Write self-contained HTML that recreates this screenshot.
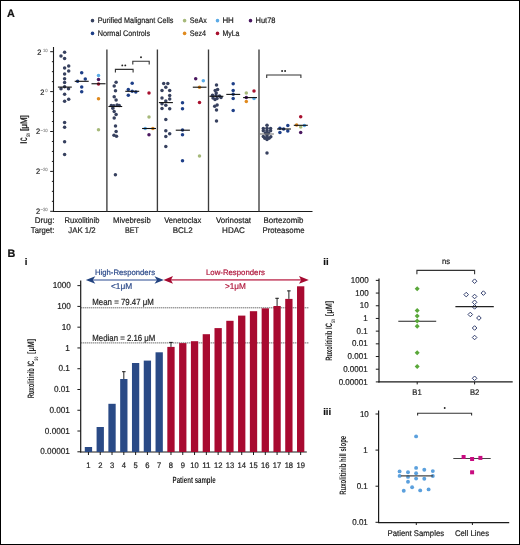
<!DOCTYPE html>
<html><head><meta charset="utf-8"><style>
html,body{margin:0;padding:0;background:#fff;}
body{width:520px;height:545px;overflow:hidden;}
svg{display:block;font-family:"Liberation Sans", sans-serif;filter:blur(0.5px);text-rendering:geometricPrecision;}
</style></head><body>
<svg width="520" height="545" viewBox="0 0 520 545">
<rect x="0" y="0" width="520" height="545" fill="#fff"/>
<rect x="0.5" y="0.5" width="519" height="544" fill="none" stroke="#000" stroke-width="1"/>
<text x="7.00" y="16.90" font-size="10.8" text-anchor="start" fill="#111" stroke="#111" stroke-width="0.2" font-weight="bold">A</text>
<text x="7.50" y="256.90" font-size="10.8" text-anchor="start" fill="#111" stroke="#111" stroke-width="0.2" font-weight="bold">B</text>
<text x="24.80" y="265.00" font-size="9.6" text-anchor="start" fill="#111" stroke="#111" stroke-width="0.2" font-weight="bold">i</text>
<text x="323.30" y="265.00" font-size="9.6" text-anchor="start" fill="#111" stroke="#111" stroke-width="0.2" font-weight="bold">ii</text>
<text x="323.20" y="414.60" font-size="9.6" text-anchor="start" fill="#111" stroke="#111" stroke-width="0.2" font-weight="bold">iii</text>
<circle cx="92.50" cy="20.65" r="1.8" fill="#37415f"/>
<text x="97.70" y="23.25" font-size="8.06" text-anchor="start" fill="#222" stroke="#222" stroke-width="0.2" textLength="75.70" lengthAdjust="spacingAndGlyphs">Purified Malignant Cells</text>
<circle cx="92.50" cy="33.40" r="1.8" fill="#1e3f88"/>
<text x="97.70" y="36.00" font-size="8.06" text-anchor="start" fill="#222" stroke="#222" stroke-width="0.2" textLength="52.40" lengthAdjust="spacingAndGlyphs">Normal Controls</text>
<circle cx="184.60" cy="20.65" r="1.8" fill="#a6b97a"/>
<text x="189.80" y="23.25" font-size="8.06" text-anchor="start" fill="#222" stroke="#222" stroke-width="0.2" textLength="17.00" lengthAdjust="spacingAndGlyphs">SeAx</text>
<circle cx="184.60" cy="33.40" r="1.8" fill="#e08a1e"/>
<text x="189.80" y="36.00" font-size="8.06" text-anchor="start" fill="#222" stroke="#222" stroke-width="0.2" textLength="16.30" lengthAdjust="spacingAndGlyphs">Sez4</text>
<circle cx="217.50" cy="20.65" r="1.8" fill="#5aaae6"/>
<text x="222.40" y="23.25" font-size="8.06" text-anchor="start" fill="#222" stroke="#222" stroke-width="0.2" textLength="11.40" lengthAdjust="spacingAndGlyphs">HH</text>
<circle cx="217.50" cy="33.40" r="1.8" fill="#a8102e"/>
<text x="222.40" y="36.00" font-size="8.06" text-anchor="start" fill="#222" stroke="#222" stroke-width="0.2" textLength="17.10" lengthAdjust="spacingAndGlyphs">MyLa</text>
<circle cx="250.50" cy="20.65" r="1.8" fill="#4a1860"/>
<text x="255.60" y="23.25" font-size="8.06" text-anchor="start" fill="#222" stroke="#222" stroke-width="0.2" textLength="19.90" lengthAdjust="spacingAndGlyphs">Hut78</text>
<line x1="53.50" y1="47.00" x2="53.50" y2="211.80" stroke="#1a1a1a" stroke-width="1.1"/>
<line x1="53.00" y1="211.50" x2="312.50" y2="211.50" stroke="#1a1a1a" stroke-width="1.1"/>
<line x1="50.20" y1="211.30" x2="53.50" y2="211.30" stroke="#1a1a1a" stroke-width="1.0"/>
<line x1="50.20" y1="171.40" x2="53.50" y2="171.40" stroke="#1a1a1a" stroke-width="1.0"/>
<line x1="50.20" y1="131.50" x2="53.50" y2="131.50" stroke="#1a1a1a" stroke-width="1.0"/>
<line x1="50.20" y1="91.60" x2="53.50" y2="91.60" stroke="#1a1a1a" stroke-width="1.0"/>
<line x1="50.20" y1="51.70" x2="53.50" y2="51.70" stroke="#1a1a1a" stroke-width="1.0"/>
<line x1="51.90" y1="201.33" x2="53.50" y2="201.33" stroke="#1a1a1a" stroke-width="1.0"/>
<line x1="51.90" y1="191.35" x2="53.50" y2="191.35" stroke="#1a1a1a" stroke-width="1.0"/>
<line x1="51.90" y1="181.38" x2="53.50" y2="181.38" stroke="#1a1a1a" stroke-width="1.0"/>
<line x1="51.90" y1="161.43" x2="53.50" y2="161.43" stroke="#1a1a1a" stroke-width="1.0"/>
<line x1="51.90" y1="151.45" x2="53.50" y2="151.45" stroke="#1a1a1a" stroke-width="1.0"/>
<line x1="51.90" y1="141.48" x2="53.50" y2="141.48" stroke="#1a1a1a" stroke-width="1.0"/>
<line x1="51.90" y1="121.53" x2="53.50" y2="121.53" stroke="#1a1a1a" stroke-width="1.0"/>
<line x1="51.90" y1="111.55" x2="53.50" y2="111.55" stroke="#1a1a1a" stroke-width="1.0"/>
<line x1="51.90" y1="101.58" x2="53.50" y2="101.58" stroke="#1a1a1a" stroke-width="1.0"/>
<line x1="51.90" y1="81.63" x2="53.50" y2="81.63" stroke="#1a1a1a" stroke-width="1.0"/>
<line x1="51.90" y1="71.65" x2="53.50" y2="71.65" stroke="#1a1a1a" stroke-width="1.0"/>
<line x1="51.90" y1="61.68" x2="53.50" y2="61.68" stroke="#1a1a1a" stroke-width="1.0"/>
<text x="47.70" y="51.70" font-size="4.56" text-anchor="end" fill="#999" stroke="#999" stroke-width="0.2" textLength="4.78" lengthAdjust="spacingAndGlyphs">10</text>
<text x="39.30" y="54.60" font-size="7.84" text-anchor="middle" fill="#222" stroke="#222" stroke-width="0.2" textLength="4.12" lengthAdjust="spacingAndGlyphs">2</text>
<text x="47.70" y="91.60" font-size="4.56" text-anchor="end" fill="#999" stroke="#999" stroke-width="0.2" textLength="2.39" lengthAdjust="spacingAndGlyphs">0</text>
<text x="42.20" y="94.50" font-size="7.84" text-anchor="middle" fill="#222" stroke="#222" stroke-width="0.2" textLength="4.12" lengthAdjust="spacingAndGlyphs">2</text>
<text x="47.70" y="131.50" font-size="4.56" text-anchor="end" fill="#999" stroke="#999" stroke-width="0.2" textLength="7.29" lengthAdjust="spacingAndGlyphs">&#8722;10</text>
<text x="38.10" y="134.40" font-size="7.84" text-anchor="middle" fill="#222" stroke="#222" stroke-width="0.2" textLength="4.12" lengthAdjust="spacingAndGlyphs">2</text>
<text x="47.70" y="171.40" font-size="4.56" text-anchor="end" fill="#999" stroke="#999" stroke-width="0.2" textLength="7.29" lengthAdjust="spacingAndGlyphs">&#8722;20</text>
<text x="38.10" y="174.30" font-size="7.84" text-anchor="middle" fill="#222" stroke="#222" stroke-width="0.2" textLength="4.12" lengthAdjust="spacingAndGlyphs">2</text>
<text x="47.70" y="211.30" font-size="4.56" text-anchor="end" fill="#999" stroke="#999" stroke-width="0.2" textLength="7.29" lengthAdjust="spacingAndGlyphs">&#8722;30</text>
<text x="38.10" y="214.20" font-size="7.84" text-anchor="middle" fill="#222" stroke="#222" stroke-width="0.2" textLength="4.12" lengthAdjust="spacingAndGlyphs">2</text>
<line x1="106.90" y1="49.50" x2="106.90" y2="211.50" stroke="#3c3c3c" stroke-width="1.35"/>
<line x1="157.40" y1="49.50" x2="157.40" y2="211.50" stroke="#3c3c3c" stroke-width="1.35"/>
<line x1="208.50" y1="49.50" x2="208.50" y2="211.50" stroke="#3c3c3c" stroke-width="1.35"/>
<line x1="259.00" y1="49.50" x2="259.00" y2="211.50" stroke="#3c3c3c" stroke-width="1.35"/>
<g transform="translate(26.9,142.8) rotate(-90)">
<rect x="-0.5" y="-6.7" width="1.2" height="6.7" fill="#222"/>
<text x="1.60" y="0.00" font-size="9.4" text-anchor="start" fill="#222" stroke="#222" stroke-width="0.05" font-weight="bold" textLength="4.00" lengthAdjust="spacingAndGlyphs">C</text>
<text x="6.00" y="3.50" font-size="5.0" text-anchor="start" fill="#222" stroke="#222" stroke-width="0.0" font-weight="bold" textLength="3.80" lengthAdjust="spacingAndGlyphs">50</text>
<text x="11.90" y="0.00" font-size="9.4" text-anchor="start" fill="#222" stroke="#222" stroke-width="0.35" textLength="15.70" lengthAdjust="spacingAndGlyphs">[&#956;M]</text>
</g>
<text x="54.40" y="223.10" font-size="8.37" text-anchor="end" fill="#222" stroke="#222" stroke-width="0.2" textLength="19.60" lengthAdjust="spacingAndGlyphs">Drug:</text>
<text x="54.40" y="232.70" font-size="8.37" text-anchor="end" fill="#222" stroke="#222" stroke-width="0.2" textLength="23.60" lengthAdjust="spacingAndGlyphs">Target:</text>
<text x="64.50" y="223.10" font-size="8.16" text-anchor="start" fill="#222" stroke="#222" stroke-width="0.2" textLength="35.00" lengthAdjust="spacingAndGlyphs">Ruxolitinib</text>
<text x="68.25" y="232.60" font-size="8.16" text-anchor="start" fill="#222" stroke="#222" stroke-width="0.2" textLength="27.50" lengthAdjust="spacingAndGlyphs">JAK 1/2</text>
<text x="113.05" y="223.10" font-size="8.16" text-anchor="start" fill="#222" stroke="#222" stroke-width="0.2" textLength="37.70" lengthAdjust="spacingAndGlyphs">Mivebresib</text>
<text x="124.90" y="232.60" font-size="8.16" text-anchor="start" fill="#222" stroke="#222" stroke-width="0.2" textLength="14.00" lengthAdjust="spacingAndGlyphs">BET</text>
<text x="164.20" y="223.10" font-size="8.16" text-anchor="start" fill="#222" stroke="#222" stroke-width="0.2" textLength="37.00" lengthAdjust="spacingAndGlyphs">Venetoclax</text>
<text x="172.70" y="232.60" font-size="8.16" text-anchor="start" fill="#222" stroke="#222" stroke-width="0.2" textLength="20.00" lengthAdjust="spacingAndGlyphs">BCL2</text>
<text x="215.95" y="223.10" font-size="8.16" text-anchor="start" fill="#222" stroke="#222" stroke-width="0.2" textLength="35.10" lengthAdjust="spacingAndGlyphs">Vorinostat</text>
<text x="222.10" y="232.60" font-size="8.16" text-anchor="start" fill="#222" stroke="#222" stroke-width="0.2" textLength="22.80" lengthAdjust="spacingAndGlyphs">HDAC</text>
<text x="263.50" y="223.10" font-size="8.16" text-anchor="start" fill="#222" stroke="#222" stroke-width="0.2" textLength="40.00" lengthAdjust="spacingAndGlyphs">Bortezomib</text>
<text x="262.45" y="232.60" font-size="8.16" text-anchor="start" fill="#222" stroke="#222" stroke-width="0.2" textLength="42.10" lengthAdjust="spacingAndGlyphs">Proteasome</text>
<path d="M115.40,72.40 L115.40,69.40 L133.10,69.40 L133.10,72.40" fill="none" stroke="#333" stroke-width="1.1"/>
<path d="M132.80,64.40 L132.80,61.30 L149.20,61.30 L149.20,64.40" fill="none" stroke="#333" stroke-width="1.1"/>
<path d="M266.70,78.00 L266.70,75.00 L300.90,75.00 L300.90,78.00" fill="none" stroke="#333" stroke-width="1.1"/>
<circle cx="122.30" cy="65.40" r="0.95" fill="#222"/>
<circle cx="125.30" cy="65.40" r="0.95" fill="#222"/>
<circle cx="141.00" cy="57.30" r="0.95" fill="#222"/>
<circle cx="282.10" cy="71.00" r="0.95" fill="#222"/>
<circle cx="285.10" cy="71.00" r="0.95" fill="#222"/>
<circle cx="64.60" cy="52.20" r="1.75" fill="#37415f"/>
<circle cx="61.00" cy="56.10" r="1.75" fill="#37415f"/>
<circle cx="64.60" cy="58.50" r="1.75" fill="#37415f"/>
<circle cx="68.70" cy="66.00" r="1.75" fill="#37415f"/>
<circle cx="64.60" cy="68.10" r="1.75" fill="#37415f"/>
<circle cx="68.70" cy="71.00" r="1.75" fill="#37415f"/>
<circle cx="64.60" cy="74.00" r="1.75" fill="#37415f"/>
<circle cx="64.60" cy="78.70" r="1.75" fill="#37415f"/>
<circle cx="64.60" cy="82.50" r="1.75" fill="#37415f"/>
<circle cx="64.60" cy="86.80" r="1.75" fill="#37415f"/>
<circle cx="61.00" cy="88.75" r="1.75" fill="#37415f"/>
<circle cx="68.50" cy="88.75" r="1.75" fill="#37415f"/>
<circle cx="64.60" cy="94.20" r="1.75" fill="#37415f"/>
<circle cx="68.70" cy="99.30" r="1.75" fill="#37415f"/>
<circle cx="64.60" cy="101.25" r="1.75" fill="#37415f"/>
<circle cx="64.60" cy="122.50" r="1.75" fill="#37415f"/>
<circle cx="64.60" cy="127.20" r="1.75" fill="#37415f"/>
<circle cx="64.60" cy="141.70" r="1.75" fill="#37415f"/>
<circle cx="64.60" cy="154.40" r="1.75" fill="#37415f"/>
<circle cx="116.10" cy="82.30" r="1.75" fill="#37415f"/>
<circle cx="114.20" cy="85.90" r="1.75" fill="#37415f"/>
<circle cx="115.50" cy="90.70" r="1.75" fill="#37415f"/>
<circle cx="114.20" cy="96.70" r="1.75" fill="#37415f"/>
<circle cx="116.10" cy="100.00" r="1.75" fill="#37415f"/>
<circle cx="111.30" cy="105.40" r="1.75" fill="#37415f"/>
<circle cx="113.80" cy="105.80" r="1.75" fill="#37415f"/>
<circle cx="117.10" cy="105.00" r="1.75" fill="#37415f"/>
<circle cx="119.20" cy="105.40" r="1.75" fill="#37415f"/>
<circle cx="112.80" cy="108.20" r="1.75" fill="#37415f"/>
<circle cx="114.20" cy="111.50" r="1.75" fill="#37415f"/>
<circle cx="116.10" cy="114.40" r="1.75" fill="#37415f"/>
<circle cx="114.20" cy="118.00" r="1.75" fill="#37415f"/>
<circle cx="115.50" cy="126.00" r="1.75" fill="#37415f"/>
<circle cx="116.10" cy="131.50" r="1.75" fill="#37415f"/>
<circle cx="114.00" cy="135.20" r="1.75" fill="#37415f"/>
<circle cx="116.50" cy="136.20" r="1.75" fill="#37415f"/>
<circle cx="115.40" cy="174.80" r="1.75" fill="#37415f"/>
<circle cx="163.70" cy="83.50" r="1.75" fill="#37415f"/>
<circle cx="167.80" cy="83.50" r="1.75" fill="#37415f"/>
<circle cx="165.80" cy="87.20" r="1.75" fill="#37415f"/>
<circle cx="162.00" cy="90.60" r="1.75" fill="#37415f"/>
<circle cx="169.70" cy="90.60" r="1.75" fill="#37415f"/>
<circle cx="169.70" cy="95.50" r="1.75" fill="#37415f"/>
<circle cx="162.00" cy="97.90" r="1.75" fill="#37415f"/>
<circle cx="169.70" cy="99.00" r="1.75" fill="#37415f"/>
<circle cx="165.80" cy="101.00" r="1.75" fill="#37415f"/>
<circle cx="162.00" cy="103.70" r="1.75" fill="#37415f"/>
<circle cx="165.80" cy="105.30" r="1.75" fill="#37415f"/>
<circle cx="162.00" cy="108.40" r="1.75" fill="#37415f"/>
<circle cx="169.70" cy="108.80" r="1.75" fill="#37415f"/>
<circle cx="165.80" cy="119.40" r="1.75" fill="#37415f"/>
<circle cx="165.80" cy="130.70" r="1.75" fill="#37415f"/>
<circle cx="169.70" cy="133.75" r="1.75" fill="#37415f"/>
<circle cx="165.80" cy="136.60" r="1.75" fill="#37415f"/>
<circle cx="165.80" cy="146.50" r="1.75" fill="#37415f"/>
<circle cx="216.50" cy="85.10" r="1.75" fill="#37415f"/>
<circle cx="217.60" cy="89.40" r="1.75" fill="#37415f"/>
<circle cx="215.20" cy="90.40" r="1.75" fill="#37415f"/>
<circle cx="216.20" cy="93.10" r="1.75" fill="#37415f"/>
<circle cx="212.50" cy="95.20" r="1.75" fill="#37415f"/>
<circle cx="216.00" cy="95.40" r="1.75" fill="#37415f"/>
<circle cx="219.50" cy="96.00" r="1.75" fill="#37415f"/>
<circle cx="213.00" cy="98.00" r="1.75" fill="#37415f"/>
<circle cx="217.00" cy="98.50" r="1.75" fill="#37415f"/>
<circle cx="221.00" cy="97.50" r="1.75" fill="#37415f"/>
<circle cx="215.00" cy="99.50" r="1.75" fill="#37415f"/>
<circle cx="217.10" cy="105.00" r="1.75" fill="#37415f"/>
<circle cx="214.70" cy="106.25" r="1.75" fill="#37415f"/>
<circle cx="216.50" cy="110.10" r="1.75" fill="#37415f"/>
<circle cx="216.50" cy="121.00" r="1.75" fill="#37415f"/>
<circle cx="267.00" cy="125.20" r="1.75" fill="#37415f"/>
<circle cx="263.30" cy="128.60" r="1.75" fill="#37415f"/>
<circle cx="267.00" cy="128.20" r="1.75" fill="#37415f"/>
<circle cx="270.60" cy="128.60" r="1.75" fill="#37415f"/>
<circle cx="263.30" cy="130.80" r="1.75" fill="#37415f"/>
<circle cx="267.00" cy="130.50" r="1.75" fill="#37415f"/>
<circle cx="270.60" cy="130.80" r="1.75" fill="#37415f"/>
<circle cx="265.50" cy="133.00" r="1.75" fill="#37415f"/>
<circle cx="268.50" cy="133.00" r="1.75" fill="#37415f"/>
<circle cx="267.00" cy="134.80" r="1.75" fill="#37415f"/>
<circle cx="263.30" cy="136.60" r="1.75" fill="#37415f"/>
<circle cx="267.00" cy="136.60" r="1.75" fill="#37415f"/>
<circle cx="270.80" cy="136.80" r="1.75" fill="#37415f"/>
<circle cx="264.80" cy="138.30" r="1.75" fill="#37415f"/>
<circle cx="269.00" cy="138.30" r="1.75" fill="#37415f"/>
<circle cx="267.00" cy="139.60" r="1.75" fill="#37415f"/>
<circle cx="267.00" cy="153.00" r="1.75" fill="#37415f"/>
<circle cx="81.70" cy="72.70" r="1.75" fill="#1e3f88"/>
<circle cx="85.30" cy="79.10" r="1.75" fill="#1e3f88"/>
<circle cx="77.60" cy="81.30" r="1.75" fill="#1e3f88"/>
<circle cx="81.70" cy="87.00" r="1.75" fill="#1e3f88"/>
<circle cx="81.70" cy="91.80" r="1.75" fill="#1e3f88"/>
<circle cx="132.20" cy="83.20" r="1.75" fill="#1e3f88"/>
<circle cx="128.30" cy="89.50" r="1.75" fill="#1e3f88"/>
<circle cx="132.20" cy="91.30" r="1.75" fill="#1e3f88"/>
<circle cx="135.80" cy="92.10" r="1.75" fill="#1e3f88"/>
<circle cx="128.30" cy="95.20" r="1.75" fill="#1e3f88"/>
<circle cx="182.50" cy="102.70" r="1.75" fill="#1e3f88"/>
<circle cx="182.50" cy="108.80" r="1.75" fill="#1e3f88"/>
<circle cx="182.50" cy="130.10" r="1.75" fill="#1e3f88"/>
<circle cx="182.50" cy="134.70" r="1.75" fill="#1e3f88"/>
<circle cx="182.50" cy="160.70" r="1.75" fill="#1e3f88"/>
<circle cx="233.20" cy="83.80" r="1.75" fill="#1e3f88"/>
<circle cx="233.20" cy="90.40" r="1.75" fill="#1e3f88"/>
<circle cx="233.20" cy="94.20" r="1.75" fill="#1e3f88"/>
<circle cx="233.20" cy="98.40" r="1.75" fill="#1e3f88"/>
<circle cx="233.20" cy="110.40" r="1.75" fill="#1e3f88"/>
<circle cx="279.90" cy="128.20" r="1.75" fill="#1e3f88"/>
<circle cx="283.60" cy="129.00" r="1.75" fill="#1e3f88"/>
<circle cx="287.80" cy="125.60" r="1.75" fill="#1e3f88"/>
<circle cx="287.80" cy="131.00" r="1.75" fill="#1e3f88"/>
<circle cx="279.90" cy="132.50" r="1.75" fill="#1e3f88"/>
<circle cx="98.50" cy="75.60" r="1.75" fill="#5aaae6"/>
<circle cx="98.50" cy="79.40" r="1.75" fill="#4a1860"/>
<circle cx="98.50" cy="83.90" r="1.75" fill="#a8102e"/>
<circle cx="98.50" cy="98.70" r="1.75" fill="#e08a1e"/>
<circle cx="98.50" cy="129.70" r="1.75" fill="#a6b97a"/>
<circle cx="149.00" cy="93.10" r="1.75" fill="#a8102e"/>
<circle cx="149.00" cy="116.90" r="1.75" fill="#a6b97a"/>
<circle cx="145.20" cy="128.50" r="1.75" fill="#5aaae6"/>
<circle cx="152.90" cy="128.50" r="1.75" fill="#e08a1e"/>
<circle cx="149.00" cy="134.70" r="1.75" fill="#4a1860"/>
<circle cx="195.70" cy="78.70" r="1.75" fill="#4a1860"/>
<circle cx="203.30" cy="80.80" r="1.75" fill="#5aaae6"/>
<circle cx="199.50" cy="87.20" r="1.75" fill="#e08a1e"/>
<circle cx="199.50" cy="102.60" r="1.75" fill="#a8102e"/>
<circle cx="199.50" cy="156.00" r="1.75" fill="#a6b97a"/>
<circle cx="254.00" cy="90.90" r="1.75" fill="#a8102e"/>
<circle cx="246.30" cy="93.00" r="1.75" fill="#a6b97a"/>
<circle cx="246.30" cy="97.60" r="1.75" fill="#4a1860"/>
<circle cx="254.00" cy="98.60" r="1.75" fill="#5aaae6"/>
<circle cx="246.30" cy="101.40" r="1.75" fill="#e08a1e"/>
<circle cx="300.70" cy="116.70" r="1.75" fill="#a8102e"/>
<circle cx="296.60" cy="125.00" r="1.75" fill="#e08a1e"/>
<circle cx="300.70" cy="127.00" r="1.75" fill="#a6b97a"/>
<circle cx="304.40" cy="125.50" r="1.75" fill="#5aaae6"/>
<circle cx="300.70" cy="132.50" r="1.75" fill="#4a1860"/>
<line x1="57.90" y1="87.10" x2="71.80" y2="87.10" stroke="#111" stroke-width="1.1"/>
<line x1="74.70" y1="81.30" x2="88.70" y2="81.30" stroke="#111" stroke-width="1.1"/>
<line x1="91.50" y1="83.75" x2="105.50" y2="83.75" stroke="#111" stroke-width="1.1"/>
<line x1="108.40" y1="106.50" x2="122.20" y2="106.50" stroke="#111" stroke-width="1.1"/>
<line x1="125.30" y1="91.30" x2="139.20" y2="91.30" stroke="#111" stroke-width="1.1"/>
<line x1="142.10" y1="128.50" x2="156.00" y2="128.50" stroke="#111" stroke-width="1.1"/>
<line x1="158.90" y1="102.60" x2="172.90" y2="102.60" stroke="#111" stroke-width="1.1"/>
<line x1="175.75" y1="130.20" x2="189.90" y2="130.20" stroke="#111" stroke-width="1.1"/>
<line x1="192.80" y1="87.20" x2="206.50" y2="87.20" stroke="#111" stroke-width="1.1"/>
<line x1="209.40" y1="96.30" x2="223.40" y2="96.30" stroke="#111" stroke-width="1.1"/>
<line x1="226.30" y1="94.40" x2="240.20" y2="94.40" stroke="#111" stroke-width="1.1"/>
<line x1="243.10" y1="97.60" x2="257.00" y2="97.60" stroke="#111" stroke-width="1.1"/>
<line x1="259.70" y1="134.00" x2="273.90" y2="134.00" stroke="#777" stroke-width="1.1"/>
<line x1="277.00" y1="129.00" x2="290.90" y2="129.00" stroke="#111" stroke-width="1.1"/>
<line x1="293.80" y1="125.30" x2="307.80" y2="125.30" stroke="#111" stroke-width="1.1"/>
<line x1="80.70" y1="280.50" x2="80.70" y2="452.50" stroke="#1a1a1a" stroke-width="1.2"/>
<line x1="80.20" y1="452.00" x2="306.80" y2="452.00" stroke="#1a1a1a" stroke-width="1.2"/>
<line x1="77.40" y1="451.80" x2="80.70" y2="451.80" stroke="#1a1a1a" stroke-width="1.0"/>
<text x="69.90" y="454.40" font-size="8.69" text-anchor="end" fill="#222" stroke="#222" stroke-width="0.2" textLength="29.64" lengthAdjust="spacingAndGlyphs">0.00001</text>
<line x1="77.40" y1="431.03" x2="80.70" y2="431.03" stroke="#1a1a1a" stroke-width="1.0"/>
<text x="69.90" y="433.63" font-size="8.69" text-anchor="end" fill="#222" stroke="#222" stroke-width="0.2" textLength="25.08" lengthAdjust="spacingAndGlyphs">0.0001</text>
<line x1="77.40" y1="410.26" x2="80.70" y2="410.26" stroke="#1a1a1a" stroke-width="1.0"/>
<text x="69.90" y="412.86" font-size="8.69" text-anchor="end" fill="#222" stroke="#222" stroke-width="0.2" textLength="20.52" lengthAdjust="spacingAndGlyphs">0.001</text>
<line x1="77.40" y1="389.49" x2="80.70" y2="389.49" stroke="#1a1a1a" stroke-width="1.0"/>
<text x="69.90" y="392.09" font-size="8.69" text-anchor="end" fill="#222" stroke="#222" stroke-width="0.2" textLength="15.96" lengthAdjust="spacingAndGlyphs">0.01</text>
<line x1="77.40" y1="368.72" x2="80.70" y2="368.72" stroke="#1a1a1a" stroke-width="1.0"/>
<text x="69.90" y="371.32" font-size="8.69" text-anchor="end" fill="#222" stroke="#222" stroke-width="0.2" textLength="11.40" lengthAdjust="spacingAndGlyphs">0.1</text>
<line x1="77.40" y1="347.95" x2="80.70" y2="347.95" stroke="#1a1a1a" stroke-width="1.0"/>
<text x="69.90" y="350.55" font-size="8.69" text-anchor="end" fill="#222" stroke="#222" stroke-width="0.2" textLength="4.56" lengthAdjust="spacingAndGlyphs">1</text>
<line x1="77.40" y1="327.18" x2="80.70" y2="327.18" stroke="#1a1a1a" stroke-width="1.0"/>
<text x="70.90" y="329.78" font-size="8.69" text-anchor="end" fill="#222" stroke="#222" stroke-width="0.2" textLength="9.12" lengthAdjust="spacingAndGlyphs">10</text>
<line x1="77.40" y1="306.41" x2="80.70" y2="306.41" stroke="#1a1a1a" stroke-width="1.0"/>
<text x="70.90" y="309.01" font-size="8.69" text-anchor="end" fill="#222" stroke="#222" stroke-width="0.2" textLength="13.68" lengthAdjust="spacingAndGlyphs">100</text>
<line x1="77.40" y1="285.64" x2="80.70" y2="285.64" stroke="#1a1a1a" stroke-width="1.0"/>
<text x="70.90" y="288.24" font-size="8.69" text-anchor="end" fill="#222" stroke="#222" stroke-width="0.2" textLength="18.24" lengthAdjust="spacingAndGlyphs">1000</text>
<line x1="81.30" y1="307.80" x2="308.30" y2="307.80" stroke="#333" stroke-width="1.0" stroke-dasharray="1,1"/>
<line x1="81.30" y1="342.90" x2="308.30" y2="342.90" stroke="#333" stroke-width="1.0" stroke-dasharray="1,1"/>
<text x="92.30" y="304.90" font-size="8.9" text-anchor="start" fill="#222" stroke="#222" stroke-width="0.2" textLength="61.60" lengthAdjust="spacingAndGlyphs">Mean = 79.47 &#956;M</text>
<text x="92.30" y="340.80" font-size="8.9" text-anchor="start" fill="#222" stroke="#222" stroke-width="0.2" textLength="63.10" lengthAdjust="spacingAndGlyphs">Median = 2.16 &#956;M</text>
<rect x="84.80" y="447.00" width="7.3" height="5.00" fill="#2a4a86"/>
<line x1="88.45" y1="452.00" x2="88.45" y2="455.00" stroke="#1a1a1a" stroke-width="1.0"/>
<text x="88.45" y="467.90" font-size="8.06" text-anchor="middle" fill="#222" stroke="#222" stroke-width="0.2" textLength="4.23" lengthAdjust="spacingAndGlyphs">1</text>
<rect x="96.59" y="427.00" width="7.3" height="25.00" fill="#2a4a86"/>
<line x1="100.24" y1="452.00" x2="100.24" y2="455.00" stroke="#1a1a1a" stroke-width="1.0"/>
<text x="100.24" y="467.90" font-size="8.06" text-anchor="middle" fill="#222" stroke="#222" stroke-width="0.2" textLength="4.23" lengthAdjust="spacingAndGlyphs">2</text>
<rect x="108.38" y="403.80" width="7.3" height="48.20" fill="#2a4a86"/>
<line x1="112.03" y1="452.00" x2="112.03" y2="455.00" stroke="#1a1a1a" stroke-width="1.0"/>
<text x="112.03" y="467.90" font-size="8.06" text-anchor="middle" fill="#222" stroke="#222" stroke-width="0.2" textLength="4.23" lengthAdjust="spacingAndGlyphs">3</text>
<rect x="120.17" y="379.00" width="7.3" height="73.00" fill="#2a4a86"/>
<line x1="123.82" y1="452.00" x2="123.82" y2="455.00" stroke="#1a1a1a" stroke-width="1.0"/>
<text x="123.82" y="467.90" font-size="8.06" text-anchor="middle" fill="#222" stroke="#222" stroke-width="0.2" textLength="4.23" lengthAdjust="spacingAndGlyphs">4</text>
<rect x="131.96" y="363.00" width="7.3" height="89.00" fill="#2a4a86"/>
<line x1="135.61" y1="452.00" x2="135.61" y2="455.00" stroke="#1a1a1a" stroke-width="1.0"/>
<text x="135.61" y="467.90" font-size="8.06" text-anchor="middle" fill="#222" stroke="#222" stroke-width="0.2" textLength="4.23" lengthAdjust="spacingAndGlyphs">5</text>
<rect x="143.75" y="360.60" width="7.3" height="91.40" fill="#2a4a86"/>
<line x1="147.40" y1="452.00" x2="147.40" y2="455.00" stroke="#1a1a1a" stroke-width="1.0"/>
<text x="147.40" y="467.90" font-size="8.06" text-anchor="middle" fill="#222" stroke="#222" stroke-width="0.2" textLength="4.23" lengthAdjust="spacingAndGlyphs">6</text>
<rect x="155.54" y="352.30" width="7.3" height="99.70" fill="#2a4a86"/>
<line x1="159.19" y1="452.00" x2="159.19" y2="455.00" stroke="#1a1a1a" stroke-width="1.0"/>
<text x="159.19" y="467.90" font-size="8.06" text-anchor="middle" fill="#222" stroke="#222" stroke-width="0.2" textLength="4.23" lengthAdjust="spacingAndGlyphs">7</text>
<rect x="167.33" y="346.90" width="7.3" height="105.10" fill="#a80a30"/>
<line x1="170.98" y1="452.00" x2="170.98" y2="455.00" stroke="#1a1a1a" stroke-width="1.0"/>
<text x="170.98" y="467.90" font-size="8.06" text-anchor="middle" fill="#222" stroke="#222" stroke-width="0.2" textLength="4.23" lengthAdjust="spacingAndGlyphs">8</text>
<rect x="179.12" y="343.10" width="7.3" height="108.90" fill="#a80a30"/>
<line x1="182.77" y1="452.00" x2="182.77" y2="455.00" stroke="#1a1a1a" stroke-width="1.0"/>
<text x="182.77" y="467.90" font-size="8.06" text-anchor="middle" fill="#222" stroke="#222" stroke-width="0.2" textLength="4.23" lengthAdjust="spacingAndGlyphs">9</text>
<rect x="190.91" y="341.20" width="7.3" height="110.80" fill="#a80a30"/>
<line x1="194.56" y1="452.00" x2="194.56" y2="455.00" stroke="#1a1a1a" stroke-width="1.0"/>
<text x="194.56" y="467.90" font-size="8.06" text-anchor="middle" fill="#222" stroke="#222" stroke-width="0.2" textLength="8.45" lengthAdjust="spacingAndGlyphs">10</text>
<rect x="202.70" y="334.20" width="7.3" height="117.80" fill="#a80a30"/>
<line x1="206.35" y1="452.00" x2="206.35" y2="455.00" stroke="#1a1a1a" stroke-width="1.0"/>
<text x="206.35" y="467.90" font-size="8.06" text-anchor="middle" fill="#222" stroke="#222" stroke-width="0.2" textLength="8.45" lengthAdjust="spacingAndGlyphs">11</text>
<rect x="214.49" y="328.10" width="7.3" height="123.90" fill="#a80a30"/>
<line x1="218.14" y1="452.00" x2="218.14" y2="455.00" stroke="#1a1a1a" stroke-width="1.0"/>
<text x="218.14" y="467.90" font-size="8.06" text-anchor="middle" fill="#222" stroke="#222" stroke-width="0.2" textLength="8.45" lengthAdjust="spacingAndGlyphs">12</text>
<rect x="226.28" y="320.80" width="7.3" height="131.20" fill="#a80a30"/>
<line x1="229.93" y1="452.00" x2="229.93" y2="455.00" stroke="#1a1a1a" stroke-width="1.0"/>
<text x="229.93" y="467.90" font-size="8.06" text-anchor="middle" fill="#222" stroke="#222" stroke-width="0.2" textLength="8.45" lengthAdjust="spacingAndGlyphs">13</text>
<rect x="238.07" y="315.60" width="7.3" height="136.40" fill="#a80a30"/>
<line x1="241.72" y1="452.00" x2="241.72" y2="455.00" stroke="#1a1a1a" stroke-width="1.0"/>
<text x="241.72" y="467.90" font-size="8.06" text-anchor="middle" fill="#222" stroke="#222" stroke-width="0.2" textLength="8.45" lengthAdjust="spacingAndGlyphs">14</text>
<rect x="249.86" y="311.20" width="7.3" height="140.80" fill="#a80a30"/>
<line x1="253.51" y1="452.00" x2="253.51" y2="455.00" stroke="#1a1a1a" stroke-width="1.0"/>
<text x="253.51" y="467.90" font-size="8.06" text-anchor="middle" fill="#222" stroke="#222" stroke-width="0.2" textLength="8.45" lengthAdjust="spacingAndGlyphs">15</text>
<rect x="261.65" y="308.30" width="7.3" height="143.70" fill="#a80a30"/>
<line x1="265.30" y1="452.00" x2="265.30" y2="455.00" stroke="#1a1a1a" stroke-width="1.0"/>
<text x="265.30" y="467.90" font-size="8.06" text-anchor="middle" fill="#222" stroke="#222" stroke-width="0.2" textLength="8.45" lengthAdjust="spacingAndGlyphs">16</text>
<rect x="273.44" y="306.00" width="7.3" height="146.00" fill="#a80a30"/>
<line x1="277.09" y1="452.00" x2="277.09" y2="455.00" stroke="#1a1a1a" stroke-width="1.0"/>
<text x="277.09" y="467.90" font-size="8.06" text-anchor="middle" fill="#222" stroke="#222" stroke-width="0.2" textLength="8.45" lengthAdjust="spacingAndGlyphs">17</text>
<rect x="285.23" y="298.90" width="7.3" height="153.10" fill="#a80a30"/>
<line x1="288.88" y1="452.00" x2="288.88" y2="455.00" stroke="#1a1a1a" stroke-width="1.0"/>
<text x="288.88" y="467.90" font-size="8.06" text-anchor="middle" fill="#222" stroke="#222" stroke-width="0.2" textLength="8.45" lengthAdjust="spacingAndGlyphs">18</text>
<rect x="297.02" y="286.30" width="7.3" height="165.70" fill="#a80a30"/>
<line x1="300.67" y1="452.00" x2="300.67" y2="455.00" stroke="#1a1a1a" stroke-width="1.0"/>
<text x="300.67" y="467.90" font-size="8.06" text-anchor="middle" fill="#222" stroke="#222" stroke-width="0.2" textLength="8.45" lengthAdjust="spacingAndGlyphs">19</text>
<line x1="123.82" y1="371.30" x2="123.82" y2="379.00" stroke="#222" stroke-width="1.0"/>
<line x1="122.02" y1="371.70" x2="125.62" y2="371.70" stroke="#222" stroke-width="1.0"/>
<line x1="170.98" y1="342.00" x2="170.98" y2="346.90" stroke="#222" stroke-width="1.0"/>
<line x1="169.18" y1="342.40" x2="172.78" y2="342.40" stroke="#222" stroke-width="1.0"/>
<line x1="277.09" y1="297.90" x2="277.09" y2="306.00" stroke="#222" stroke-width="1.0"/>
<line x1="275.29" y1="298.30" x2="278.89" y2="298.30" stroke="#222" stroke-width="1.0"/>
<line x1="288.88" y1="290.50" x2="288.88" y2="298.90" stroke="#222" stroke-width="1.0"/>
<line x1="287.08" y1="290.90" x2="290.68" y2="290.90" stroke="#222" stroke-width="1.0"/>
<text x="172.60" y="483.40" font-size="9.0" text-anchor="start" fill="#222" stroke="#222" stroke-width="0.0" font-weight="bold" textLength="43.10" lengthAdjust="spacingAndGlyphs">Patient sample</text>
<g transform="translate(34.0,398.2) rotate(-90)">
<text x="0.00" y="0.00" font-size="9.3" text-anchor="start" fill="#222" stroke="#222" stroke-width="0.0" font-weight="bold" textLength="37.50" lengthAdjust="spacingAndGlyphs">Ruxolitinib IC</text>
<text x="37.80" y="3.50" font-size="5.0" text-anchor="start" fill="#222" stroke="#222" stroke-width="0.0" font-weight="bold" textLength="3.60" lengthAdjust="spacingAndGlyphs">50</text>
<text x="44.30" y="0.00" font-size="9.3" text-anchor="start" fill="#222" stroke="#222" stroke-width="0.0" font-weight="bold" textLength="15.00" lengthAdjust="spacingAndGlyphs">[&#956;M]</text>
</g>
<line x1="92.00" y1="280.00" x2="158.00" y2="280.00" stroke="#7086b6" stroke-width="1.6"/>
<polygon points="85.80,280.00 95.30,276.20 92.80,280.00 95.30,283.80" fill="#21427f"/>
<polygon points="163.80,280.00 154.50,276.20 157.00,280.00 154.50,283.80" fill="#21427f"/>
<line x1="170.00" y1="279.90" x2="302.00" y2="279.90" stroke="#cc5d78" stroke-width="1.6"/>
<polygon points="163.50,279.90 173.00,276.00 170.90,279.90 173.00,283.80" fill="#a50a30"/>
<polygon points="308.80,279.90 299.00,276.00 301.10,279.90 299.00,283.80" fill="#a50a30"/>
<text x="95.00" y="275.30" font-size="7.84" text-anchor="start" fill="#2c4a8a" stroke="#2c4a8a" stroke-width="0.2" textLength="60.00" lengthAdjust="spacingAndGlyphs">High-Responders</text>
<text x="110.90" y="288.80" font-size="8.48" text-anchor="start" fill="#2c4a8a" stroke="#2c4a8a" stroke-width="0.2" textLength="21.30" lengthAdjust="spacingAndGlyphs">&lt;1&#956;M</text>
<text x="206.00" y="275.40" font-size="7.84" text-anchor="start" fill="#b0173c" stroke="#b0173c" stroke-width="0.2" textLength="58.90" lengthAdjust="spacingAndGlyphs">Low-Responders</text>
<text x="224.90" y="288.90" font-size="8.48" text-anchor="start" fill="#b0173c" stroke="#b0173c" stroke-width="0.2" textLength="20.90" lengthAdjust="spacingAndGlyphs">&gt;1&#956;M</text>
<line x1="379.00" y1="278.50" x2="379.00" y2="382.40" stroke="#1a1a1a" stroke-width="1.2"/>
<line x1="378.50" y1="381.90" x2="512.70" y2="381.90" stroke="#1a1a1a" stroke-width="1.2"/>
<line x1="375.80" y1="381.90" x2="379.00" y2="381.90" stroke="#1a1a1a" stroke-width="1.0"/>
<text x="367.60" y="384.50" font-size="8.48" text-anchor="end" fill="#222" stroke="#222" stroke-width="0.2" textLength="28.92" lengthAdjust="spacingAndGlyphs">0.00001</text>
<line x1="375.80" y1="369.21" x2="379.00" y2="369.21" stroke="#1a1a1a" stroke-width="1.0"/>
<text x="367.60" y="371.81" font-size="8.48" text-anchor="end" fill="#222" stroke="#222" stroke-width="0.2" textLength="24.47" lengthAdjust="spacingAndGlyphs">0.0001</text>
<line x1="375.80" y1="356.52" x2="379.00" y2="356.52" stroke="#1a1a1a" stroke-width="1.0"/>
<text x="367.60" y="359.12" font-size="8.48" text-anchor="end" fill="#222" stroke="#222" stroke-width="0.2" textLength="20.02" lengthAdjust="spacingAndGlyphs">0.001</text>
<line x1="375.80" y1="343.83" x2="379.00" y2="343.83" stroke="#1a1a1a" stroke-width="1.0"/>
<text x="367.60" y="346.43" font-size="8.48" text-anchor="end" fill="#222" stroke="#222" stroke-width="0.2" textLength="15.57" lengthAdjust="spacingAndGlyphs">0.01</text>
<line x1="375.80" y1="331.14" x2="379.00" y2="331.14" stroke="#1a1a1a" stroke-width="1.0"/>
<text x="367.60" y="333.74" font-size="8.48" text-anchor="end" fill="#222" stroke="#222" stroke-width="0.2" textLength="11.12" lengthAdjust="spacingAndGlyphs">0.1</text>
<line x1="375.80" y1="318.45" x2="379.00" y2="318.45" stroke="#1a1a1a" stroke-width="1.0"/>
<text x="367.60" y="321.05" font-size="8.48" text-anchor="end" fill="#222" stroke="#222" stroke-width="0.2" textLength="4.45" lengthAdjust="spacingAndGlyphs">1</text>
<line x1="375.80" y1="305.76" x2="379.00" y2="305.76" stroke="#1a1a1a" stroke-width="1.0"/>
<text x="368.60" y="308.36" font-size="8.48" text-anchor="end" fill="#222" stroke="#222" stroke-width="0.2" textLength="8.90" lengthAdjust="spacingAndGlyphs">10</text>
<line x1="375.80" y1="293.07" x2="379.00" y2="293.07" stroke="#1a1a1a" stroke-width="1.0"/>
<text x="368.60" y="295.67" font-size="8.48" text-anchor="end" fill="#222" stroke="#222" stroke-width="0.2" textLength="13.35" lengthAdjust="spacingAndGlyphs">100</text>
<line x1="375.80" y1="280.38" x2="379.00" y2="280.38" stroke="#1a1a1a" stroke-width="1.0"/>
<text x="368.60" y="282.98" font-size="8.48" text-anchor="end" fill="#222" stroke="#222" stroke-width="0.2" textLength="17.80" lengthAdjust="spacingAndGlyphs">1000</text>
<line x1="417.20" y1="381.90" x2="417.20" y2="384.40" stroke="#1a1a1a" stroke-width="1.0"/>
<line x1="474.60" y1="381.90" x2="474.60" y2="384.40" stroke="#1a1a1a" stroke-width="1.0"/>
<text x="417.00" y="395.40" font-size="8.16" text-anchor="middle" fill="#222" stroke="#222" stroke-width="0.2" textLength="9.42" lengthAdjust="spacingAndGlyphs">B1</text>
<text x="474.70" y="395.40" font-size="8.16" text-anchor="middle" fill="#222" stroke="#222" stroke-width="0.2" textLength="9.42" lengthAdjust="spacingAndGlyphs">B2</text>
<path d="M416.90,274.30 L416.90,270.40 L474.60,270.40 L474.60,274.30" fill="none" stroke="#333" stroke-width="1.1"/>
<text x="446.00" y="263.70" font-size="8.16" text-anchor="middle" fill="#222" stroke="#222" stroke-width="0.2" textLength="8.13" lengthAdjust="spacingAndGlyphs">ns</text>
<line x1="398.30" y1="321.20" x2="436.20" y2="321.20" stroke="#222" stroke-width="1.1"/>
<polygon points="417.20,286.20 419.70,288.70 417.20,291.20 414.70,288.70" fill="#5aa83a"/>
<polygon points="417.20,307.90 419.70,310.40 417.20,312.90 414.70,310.40" fill="#5aa83a"/>
<polygon points="417.20,313.40 419.70,315.90 417.20,318.40 414.70,315.90" fill="#5aa83a"/>
<polygon points="417.20,318.60 419.70,321.10 417.20,323.60 414.70,321.10" fill="#5aa83a"/>
<polygon points="417.20,323.80 419.70,326.30 417.20,328.80 414.70,326.30" fill="#5aa83a"/>
<polygon points="417.20,350.20 419.70,352.70 417.20,355.20 414.70,352.70" fill="#5aa83a"/>
<polygon points="417.20,364.00 419.70,366.50 417.20,369.00 414.70,366.50" fill="#5aa83a"/>
<polygon points="474.60,278.90 476.90,281.20 474.60,283.50 472.30,281.20" fill="#fff" stroke="#34406e" stroke-width="1.0"/>
<polygon points="466.20,292.30 468.50,294.60 466.20,296.90 463.90,294.60" fill="#fff" stroke="#34406e" stroke-width="1.0"/>
<polygon points="483.40,290.80 485.70,293.10 483.40,295.40 481.10,293.10" fill="#fff" stroke="#34406e" stroke-width="1.0"/>
<polygon points="474.60,294.20 476.90,296.50 474.60,298.80 472.30,296.50" fill="#fff" stroke="#34406e" stroke-width="1.0"/>
<polygon points="474.60,300.00 476.90,302.30 474.60,304.60 472.30,302.30" fill="#fff" stroke="#34406e" stroke-width="1.0"/>
<polygon points="474.60,304.60 476.90,306.90 474.60,309.20 472.30,306.90" fill="#fff" stroke="#34406e" stroke-width="1.0"/>
<polygon points="470.30,312.20 472.60,314.50 470.30,316.80 468.00,314.50" fill="#fff" stroke="#34406e" stroke-width="1.0"/>
<polygon points="478.90,315.70 481.20,318.00 478.90,320.30 476.60,318.00" fill="#fff" stroke="#34406e" stroke-width="1.0"/>
<polygon points="474.60,325.70 476.90,328.00 474.60,330.30 472.30,328.00" fill="#fff" stroke="#34406e" stroke-width="1.0"/>
<polygon points="474.60,335.20 476.90,337.50 474.60,339.80 472.30,337.50" fill="#fff" stroke="#34406e" stroke-width="1.0"/>
<polygon points="474.60,376.00 476.90,378.30 474.60,380.60 472.30,378.30" fill="#fff" stroke="#34406e" stroke-width="1.0"/>
<line x1="455.40" y1="306.60" x2="493.80" y2="306.60" stroke="#222" stroke-width="1.1"/>
<g transform="translate(332.2,360.7) rotate(-90)">
<text x="0.00" y="0.00" font-size="9.3" text-anchor="start" fill="#222" stroke="#222" stroke-width="0.0" font-weight="bold" textLength="37.60" lengthAdjust="spacingAndGlyphs">Ruxolitinib IC</text>
<text x="37.90" y="3.10" font-size="5.0" text-anchor="start" fill="#222" stroke="#222" stroke-width="0.0" font-weight="bold" textLength="3.60" lengthAdjust="spacingAndGlyphs">50</text>
<text x="44.50" y="0.00" font-size="9.3" text-anchor="start" fill="#222" stroke="#222" stroke-width="0.0" font-weight="bold" textLength="15.40" lengthAdjust="spacingAndGlyphs">[&#956;M]</text>
</g>
<line x1="378.60" y1="410.50" x2="378.60" y2="523.10" stroke="#1a1a1a" stroke-width="1.2"/>
<line x1="378.10" y1="522.60" x2="509.20" y2="522.60" stroke="#1a1a1a" stroke-width="1.2"/>
<line x1="375.50" y1="522.30" x2="378.60" y2="522.30" stroke="#1a1a1a" stroke-width="1.0"/>
<text x="367.80" y="524.90" font-size="8.48" text-anchor="end" fill="#222" stroke="#222" stroke-width="0.2" textLength="15.57" lengthAdjust="spacingAndGlyphs">0.01</text>
<line x1="375.50" y1="486.20" x2="378.60" y2="486.20" stroke="#1a1a1a" stroke-width="1.0"/>
<text x="367.80" y="488.80" font-size="8.48" text-anchor="end" fill="#222" stroke="#222" stroke-width="0.2" textLength="11.12" lengthAdjust="spacingAndGlyphs">0.1</text>
<line x1="375.50" y1="450.10" x2="378.60" y2="450.10" stroke="#1a1a1a" stroke-width="1.0"/>
<text x="367.80" y="452.70" font-size="8.48" text-anchor="end" fill="#222" stroke="#222" stroke-width="0.2" textLength="4.45" lengthAdjust="spacingAndGlyphs">1</text>
<line x1="375.50" y1="414.00" x2="378.60" y2="414.00" stroke="#1a1a1a" stroke-width="1.0"/>
<text x="368.80" y="416.60" font-size="8.48" text-anchor="end" fill="#222" stroke="#222" stroke-width="0.2" textLength="8.90" lengthAdjust="spacingAndGlyphs">10</text>
<line x1="416.30" y1="522.60" x2="416.30" y2="525.00" stroke="#1a1a1a" stroke-width="1.0"/>
<line x1="472.40" y1="522.60" x2="472.40" y2="525.00" stroke="#1a1a1a" stroke-width="1.0"/>
<text x="415.80" y="536.10" font-size="8.16" text-anchor="middle" fill="#222" stroke="#222" stroke-width="0.2" textLength="56.60" lengthAdjust="spacingAndGlyphs">Patient Samples</text>
<text x="472.00" y="536.10" font-size="8.16" text-anchor="middle" fill="#222" stroke="#222" stroke-width="0.2" textLength="34.10" lengthAdjust="spacingAndGlyphs">Cell Lines</text>
<path d="M417.60,415.60 L417.60,413.20 L471.60,413.20 L471.60,415.60" fill="none" stroke="#333" stroke-width="1.1"/>
<circle cx="444.70" cy="408.00" r="0.95" fill="#222"/>
<circle cx="416.10" cy="436.40" r="1.95" fill="#5ba0dd"/>
<circle cx="416.10" cy="467.90" r="1.95" fill="#5ba0dd"/>
<circle cx="424.30" cy="469.80" r="1.95" fill="#5ba0dd"/>
<circle cx="399.60" cy="471.40" r="1.95" fill="#5ba0dd"/>
<circle cx="408.00" cy="472.20" r="1.95" fill="#5ba0dd"/>
<circle cx="432.80" cy="471.10" r="1.95" fill="#5ba0dd"/>
<circle cx="416.10" cy="473.30" r="1.95" fill="#5ba0dd"/>
<circle cx="399.60" cy="475.90" r="1.95" fill="#5ba0dd"/>
<circle cx="408.00" cy="476.90" r="1.95" fill="#5ba0dd"/>
<circle cx="416.10" cy="478.60" r="1.95" fill="#5ba0dd"/>
<circle cx="424.30" cy="478.80" r="1.95" fill="#5ba0dd"/>
<circle cx="432.80" cy="476.00" r="1.95" fill="#5ba0dd"/>
<circle cx="408.00" cy="481.80" r="1.95" fill="#5ba0dd"/>
<circle cx="412.10" cy="487.20" r="1.95" fill="#5ba0dd"/>
<circle cx="403.75" cy="490.70" r="1.95" fill="#5ba0dd"/>
<circle cx="420.20" cy="490.40" r="1.95" fill="#5ba0dd"/>
<circle cx="428.60" cy="489.40" r="1.95" fill="#5ba0dd"/>
<line x1="400.90" y1="475.90" x2="433.10" y2="475.90" stroke="#444" stroke-width="1.1"/>
<line x1="453.30" y1="458.50" x2="490.70" y2="458.50" stroke="#444" stroke-width="1.1"/>
<rect x="461.60" y="455.00" width="4" height="4" fill="#c80c80"/>
<rect x="470.10" y="457.00" width="4" height="4" fill="#c80c80"/>
<rect x="478.40" y="455.90" width="4" height="4" fill="#c80c80"/>
<rect x="470.10" y="470.30" width="4" height="4" fill="#c80c80"/>
<g transform="translate(345.9,494.8) rotate(-90)">
<text x="0.00" y="0.00" font-size="9.3" text-anchor="start" fill="#222" stroke="#222" stroke-width="0.0" font-weight="bold" textLength="59.00" lengthAdjust="spacingAndGlyphs">Ruxolitinib hill slope</text>
</g>
</svg>
</body></html>
